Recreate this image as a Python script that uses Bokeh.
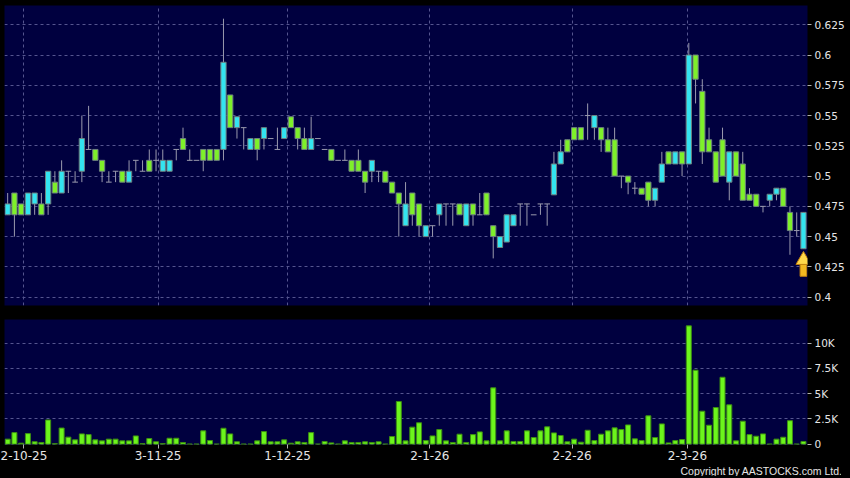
import numpy as np
from bokeh.plotting import figure
from bokeh.layouts import column
from bokeh.models import (ColumnDataSource, FixedTicker, Grid, CustomJSTickFormatter,
                          Title, Range1d, GlobalInlineStyleSheet)
from bokeh.embed import file_html
from bokeh.resources import INLINE

# ---------------- data ----------------
opens = [0.477, 0.468, 0.468, 0.486, 0.486, 0.468, 0.504, 0.486, 0.504, 0.504,
         0.495, 0.531, 0.522, 0.513, 0.504, 0.495, 0.504, 0.495, 0.504, 0.513,
         0.504, 0.504, 0.513, 0.513, 0.513, 0.522, 0.522, 0.513, 0.513, 0.513,
         0.513, 0.513, 0.594, 0.540, 0.549, 0.540, 0.531, 0.522, 0.540, 0.531,
         0.522, 0.540, 0.540, 0.531, 0.522, 0.531, 0.531, 0.522, 0.513, 0.513,
         0.513, 0.504, 0.504, 0.495, 0.513, 0.504, 0.495, 0.486, 0.477, 0.477,
         0.468, 0.459, 0.459, 0.459, 0.477, 0.477, 0.477, 0.468, 0.477, 0.468,
         0.468, 0.468, 0.450, 0.450, 0.468, 0.468, 0.477, 0.477, 0.468, 0.477,
         0.477, 0.510, 0.520, 0.520, 0.530, 0.530, 0.550, 0.550, 0.530, 0.520,
         0.500, 0.500, 0.495, 0.490, 0.485, 0.480, 0.490, 0.510, 0.510, 0.520,
         0.510, 0.600, 0.580, 0.520, 0.520, 0.495, 0.500, 0.520, 0.500, 0.480,
         0.480, 0.475, 0.475, 0.485, 0.490, 0.475, 0.455, 0.455, 0.470]
highs = [0.486, 0.486, 0.477, 0.486, 0.486, 0.486, 0.504, 0.504, 0.513, 0.504,
         0.504, 0.550, 0.558, 0.522, 0.513, 0.504, 0.504, 0.504, 0.513, 0.513,
         0.513, 0.522, 0.522, 0.522, 0.513, 0.522, 0.540, 0.522, 0.513, 0.522,
         0.522, 0.522, 0.630, 0.567, 0.549, 0.540, 0.531, 0.531, 0.540, 0.531,
         0.540, 0.540, 0.549, 0.540, 0.540, 0.549, 0.531, 0.522, 0.522, 0.513,
         0.522, 0.513, 0.522, 0.504, 0.513, 0.504, 0.504, 0.495, 0.486, 0.495,
         0.486, 0.477, 0.459, 0.459, 0.477, 0.477, 0.477, 0.477, 0.477, 0.477,
         0.486, 0.486, 0.459, 0.450, 0.468, 0.468, 0.477, 0.477, 0.468, 0.477,
         0.477, 0.520, 0.530, 0.530, 0.540, 0.540, 0.560, 0.550, 0.540, 0.540,
         0.540, 0.500, 0.500, 0.495, 0.490, 0.495, 0.490, 0.520, 0.520, 0.520,
         0.520, 0.610, 0.600, 0.580, 0.540, 0.520, 0.540, 0.520, 0.520, 0.520,
         0.490, 0.485, 0.475, 0.485, 0.490, 0.490, 0.475, 0.470, 0.470]
lows = [0.468, 0.450, 0.468, 0.468, 0.468, 0.468, 0.468, 0.486, 0.486, 0.486,
        0.495, 0.495, 0.522, 0.513, 0.495, 0.495, 0.495, 0.495, 0.495, 0.504,
        0.504, 0.504, 0.504, 0.504, 0.504, 0.513, 0.522, 0.513, 0.513, 0.504,
        0.513, 0.513, 0.513, 0.540, 0.531, 0.522, 0.522, 0.513, 0.522, 0.531,
        0.522, 0.531, 0.540, 0.522, 0.522, 0.522, 0.531, 0.522, 0.513, 0.513,
        0.513, 0.504, 0.504, 0.486, 0.495, 0.495, 0.495, 0.486, 0.450, 0.459,
        0.459, 0.450, 0.450, 0.450, 0.459, 0.459, 0.459, 0.468, 0.459, 0.459,
        0.468, 0.468, 0.432, 0.441, 0.4455, 0.459, 0.459, 0.459, 0.468, 0.468,
        0.459, 0.4845, 0.510, 0.520, 0.530, 0.530, 0.530, 0.530, 0.520, 0.520,
        0.500, 0.490, 0.485, 0.485, 0.485, 0.475, 0.475, 0.495, 0.510, 0.510,
        0.500, 0.510, 0.560, 0.510, 0.520, 0.495, 0.500, 0.480, 0.500, 0.480,
        0.480, 0.475, 0.470, 0.475, 0.480, 0.475, 0.435, 0.450, 0.440]
closes = [0.468, 0.486, 0.477, 0.468, 0.477, 0.477, 0.477, 0.495, 0.486, 0.504,
          0.495, 0.504, 0.522, 0.522, 0.513, 0.495, 0.504, 0.504, 0.495, 0.513,
          0.504, 0.513, 0.513, 0.504, 0.504, 0.522, 0.531, 0.513, 0.513, 0.522,
          0.522, 0.522, 0.522, 0.567, 0.540, 0.540, 0.522, 0.531, 0.531, 0.531,
          0.522, 0.531, 0.549, 0.540, 0.531, 0.522, 0.531, 0.522, 0.522, 0.513,
          0.513, 0.513, 0.513, 0.504, 0.504, 0.504, 0.504, 0.495, 0.486, 0.459,
          0.486, 0.477, 0.450, 0.459, 0.468, 0.477, 0.477, 0.477, 0.459, 0.477,
          0.468, 0.486, 0.459, 0.441, 0.4455, 0.459, 0.477, 0.477, 0.468, 0.477,
          0.477, 0.4845, 0.510, 0.530, 0.540, 0.540, 0.550, 0.540, 0.540, 0.530,
          0.530, 0.500, 0.500, 0.490, 0.490, 0.495, 0.480, 0.495, 0.520, 0.510,
          0.520, 0.510, 0.600, 0.570, 0.530, 0.520, 0.530, 0.495, 0.520, 0.510,
          0.485, 0.485, 0.475, 0.480, 0.485, 0.490, 0.470, 0.455, 0.440]
volumes = [500, 1150, 100, 1050, 250, 170, 2400, 50, 1600, 700,
           430, 1020, 950, 430, 330, 500, 500, 330, 330, 820,
           50, 560, 240, 50, 590, 590, 170, 0, 0, 1320,
           360, 0, 1580, 1020, 240, 0, 0, 330, 1250, 240,
           240, 430, 100, 240, 170, 1150, 0, 270, 130, 0,
           330, 170, 170, 240, 170, 240, 0, 760, 4230, 330,
           1690, 2120, 360, 820, 1450, 330, 170, 990, 170, 950,
           1220, 330, 5580, 330, 1320, 270, 270, 1320, 660, 1320,
           1720, 1120, 860, 240, 500, 200, 1380, 360, 990, 1320,
           1620, 1450, 1910, 530, 360, 2810, 660, 2010, 130, 360,
           460, 11720, 7330, 3270, 1880, 3630, 6630, 3900, 330, 2280,
           950, 790, 1020, 0, 500, 690, 2330, 0, 270]

date_labels = ["2-10-25", "3-11-25", "1-12-25", "2-1-26", "2-2-26", "2-3-26"]
date_label_idx = [2.3, 22.3, 41.5, 62.6, 83.7, 100.8]
price_ticks = [0.4, 0.425, 0.45, 0.475, 0.5, 0.525, 0.55, 0.575, 0.6, 0.625]
volume_ticks = [0, 2500, 5000, 7500, 10000]

# ---------------- styling ----------------
BG = "#000000"
PLOT_BG = "#00003f"
GRID = "#55558f"
UP = "#7ef02a"
DOWN = "#33e4f0"
WICK = "#9a9aae"
BODY_LINE = "#6e8080"
VOL_FILL = "#6cf51c"
VOL_LINE = "#3d8f12"
TXT = "#e6e6e6"
FONT = "DejaVu Sans"

n = len(opens)
idx = np.arange(n)
o = np.array(opens); c = np.array(closes); h = np.array(highs); l = np.array(lows)
body = c != o
colors = np.where(c > o, UP, DOWN)

wick_src = ColumnDataSource(dict(x=idx, h=h, l=l))
body_src = ColumnDataSource(dict(x=idx[body], top=np.maximum(o, c)[body],
                                 bottom=np.minimum(o, c)[body], color=colors[body]))
doji_src = ColumnDataSource(dict(x0=idx[~body] - 0.42, x1=idx[~body] + 0.42, y=o[~body]))
vol_src = ColumnDataSource(dict(x=idx, v=volumes))

xr = Range1d(-0.47, 118.6)

def style(p):
    p.background_fill_color = PLOT_BG
    p.border_fill_color = BG
    p.outline_line_color = None
    ax = p.yaxis[0]
    ax.axis_line_color = None
    ax.major_tick_line_color = "#b0b0b0"
    ax.major_tick_out = 4
    ax.major_tick_in = 0
    ax.minor_tick_line_color = None
    ax.major_label_text_color = TXT
    ax.major_label_text_font = FONT
    ax.major_label_text_font_size = "10.5px"
    ax.major_label_standoff = 3
    p.ygrid.grid_line_color = GRID
    p.ygrid.grid_line_dash = "3 3"
    xg = Grid(dimension=0, ticker=FixedTicker(ticks=date_label_idx),
              grid_line_color=GRID, grid_line_dash="3 3")
    p.add_layout(xg)

# ---------------- price panel ----------------
pp = figure(frame_width=803, frame_height=300, x_range=xr, y_range=Range1d(0.3931, 0.6409),
            x_axis_type=None, y_axis_location="right", output_backend="svg",
            toolbar_location=None, min_border_left=4, min_border_top=5,
            min_border_bottom=7, min_border_right=0)
style(pp)
pp.yaxis.ticker = FixedTicker(ticks=price_ticks)
pp.yaxis.formatter = CustomJSTickFormatter(code="return parseFloat(tick.toFixed(3)).toString();")

pp.segment(x0="x", y0="h", x1="x", y1="l", source=wick_src, line_color=WICK, line_width=1)
pp.segment(x0="x0", y0="y", x1="x1", y1="y", source=doji_src, line_color=WICK, line_width=1)
pp.vbar(x="x", top="top", bottom="bottom", width=0.78, source=body_src,
        fill_color="color", line_color=BODY_LINE, line_width=1)

# marker arrow under the last candle
last = n - 1
pp.vbar(x=[last], top=[lows[last] - 0.0112], bottom=[lows[last] - 0.0228], width=1.0,
        fill_color="#f2b820", line_color="#c07f10", line_width=1)
pp.scatter(x=[last], y=[lows[last] - 0.0094], marker="triangle", size=15,
           fill_color="#ffd84a", line_color="#c07f10", line_width=1)

# ---------------- volume panel ----------------
pv = figure(frame_width=803, frame_height=125, x_range=xr, y_range=Range1d(-30, 12350),
            x_axis_location="below", y_axis_location="right", output_backend="svg",
            toolbar_location=None, min_border_left=4, min_border_top=7,
            min_border_bottom=0, min_border_right=0)
style(pv)
pv.xgrid.visible = False
pv.yaxis.ticker = FixedTicker(ticks=volume_ticks)
pv.yaxis.formatter = CustomJSTickFormatter(code="return tick == 0 ? '0' : (tick/1000) + 'K';")
xa = pv.xaxis[0]
xa.ticker = FixedTicker(ticks=date_label_idx)
xa.formatter = CustomJSTickFormatter(args=dict(pos=date_label_idx, labs=date_labels), code="""
    for (let i = 0; i < pos.length; i++) { if (Math.abs(pos[i] - tick) < 1e-6) return labs[i]; }
    return '';""")
xa.axis_line_color = None
xa.major_tick_line_color = "#b0b0b0"
xa.major_tick_out = 4
xa.major_tick_in = 0
xa.minor_tick_line_color = None
xa.major_label_text_color = TXT
xa.major_label_text_font = FONT
xa.major_label_text_font_size = "12px"
xa.major_label_standoff = 2

pv.vbar(x="x", top="v", bottom=0, width=0.74, source=vol_src,
        fill_color=VOL_FILL, line_color=VOL_LINE, line_width=1)

cr = Title(text="Copyright by AASTOCKS.com Ltd.", align="right", text_color=TXT,
           text_font="Liberation Sans", text_font_size="10.5px", text_font_style="normal",
           offset=-35, standoff=0)
pv.add_layout(cr, "below")

css = GlobalInlineStyleSheet(css="html, body { margin: 0 !important; padding: 0; background: #000; overflow: hidden; }")
layout = column(pp, pv, spacing=0, stylesheets=[css], styles={"background": "#000"})

open("out.html", "w").write(file_html(layout, INLINE))
